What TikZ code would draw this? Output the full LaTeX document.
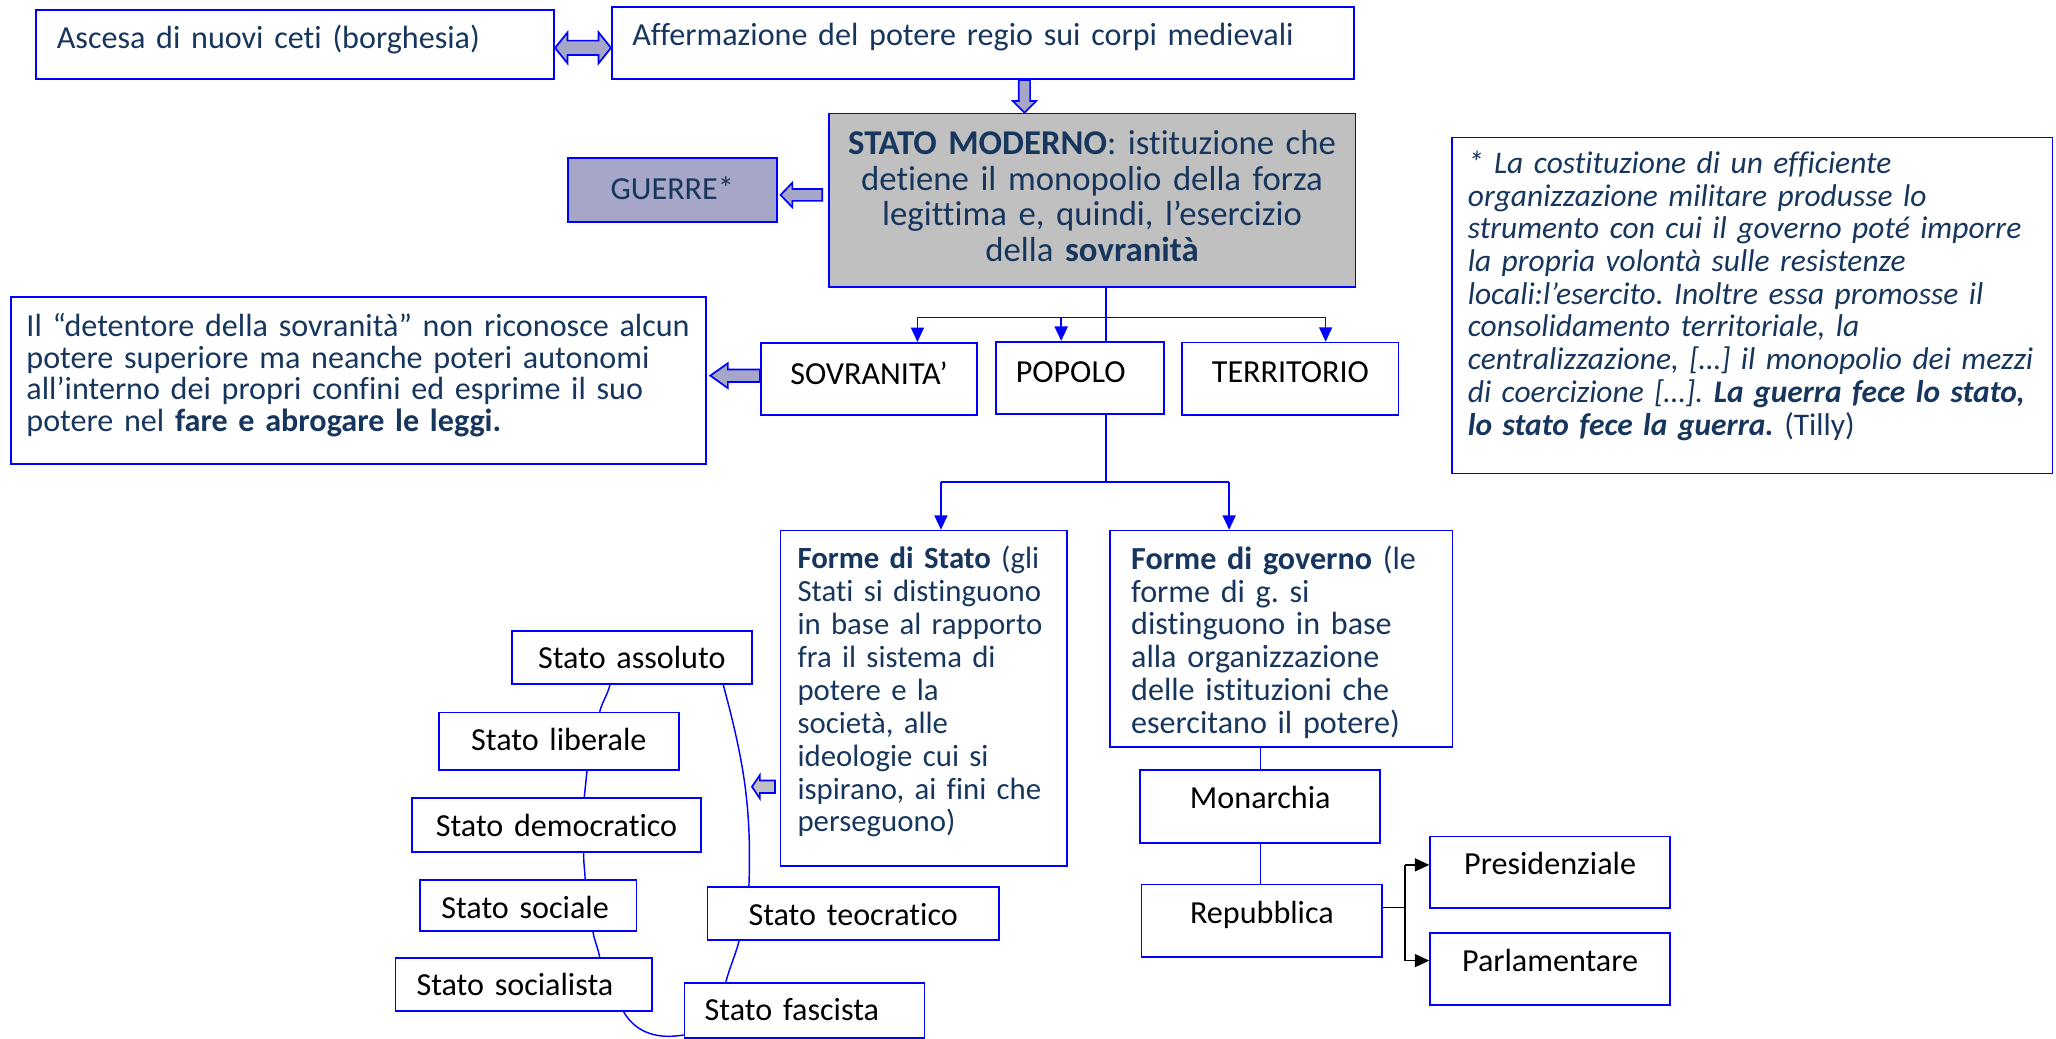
\documentclass[tikz,border=0pt]{standalone}
\usepackage{fontspec}
\setmainfont{Carlito}[Ligatures={TeX,NoCommon}]
\frenchspacing
\hyphenpenalty=10000
\usetikzlibrary{calc}
\usetikzlibrary{arrows.meta}
\definecolor{blu}{RGB}{0,0,255}
\definecolor{notte}{RGB}{23,54,93}
\definecolor{lilla}{RGB}{166,166,200}
\definecolor{grigio}{RGB}{192,192,192}
\tikzset{
    box/.style={
        rectangle,          % 矩形
        draw=blu,           % 蓝色边框
        line width=1.3pt,   % 边框粗细
        anchor=north west,  % 以左上角定位
        inner ysep=0pt,
        align=left,
        text=notte,
        font=\fontsize{24.5}{25}\selectfont
    },
    nero/.style={box, text=black},
    link/.style={draw=blu, line width=1.1pt},
    punta/.style={-{Triangle[length=11pt,width=10pt]}},
    fat/.style={draw=blu, line width=1.3pt, line join=miter}
}
% 粗箭头: [填充色]{尾}{尖}{箭头半宽}{箭身半宽}{箭头长}
\newcommand{\freccia}[6][lilla]{%
  \filldraw[fat, fill=#1] let \p1=(#2), \p2=(#3),
      \n1={veclen(\x2-\x1,\y2-\y1)}, \n2={atan2(\y2-\y1,\x2-\x1)} in
      [shift={(\p2)}, rotate=\n2]
      (0pt,0pt) -- (-#6pt,#4pt) -- (-#6pt,#5pt) -- (-\n1,#5pt)
      -- (-\n1,-#5pt) -- (-#6pt,-#5pt) -- (-#6pt,-#4pt) -- cycle;}
\newcommand{\frecciadoppia}[6][lilla]{%
  \filldraw[fat, fill=#1] let \p1=(#2), \p2=(#3),
      \n1={veclen(\x2-\x1,\y2-\y1)}, \n2={atan2(\y2-\y1,\x2-\x1)} in
      [shift={(\p2)}, rotate=\n2]
      (0pt,0pt) -- (-#6pt,#4pt) -- (-#6pt,#5pt) -- (-\n1+#6pt,#5pt)
      -- (-\n1+#6pt,#4pt) -- (-\n1,0pt) -- (-\n1+#6pt,-#4pt)
      -- (-\n1+#6pt,-#5pt) -- (-#6pt,-#5pt) -- (-#6pt,-#4pt) -- cycle;}

\begin{document}
\begin{tikzpicture}[x=1pt, y=-1pt]
\useasboundingbox (0,0) rectangle (1568,792);

% 上方
\node[box, text width=363.3pt, inner xsep=16pt, text height=29.1pt, text depth=23.5pt] (ascesa) at (26.7,7.1) {Ascesa di nuovi ceti (borghesia)};
\node[box, text width=534.8pt, inner xsep=15.6pt, text height=29.1pt, text depth=26pt] (afferm) at (466,4.6) {Affermazione del potere regio sui corpi medievali};
\node[box, fill=grigio, align=center, text width=385.6pt, inner xsep=8pt, text height=31.5pt, text depth=100.5pt,
      font=\fontsize{26.5}{27}\selectfont] (moderno) at (631.4,86)
     {\textbf{STATO MODERNO}: istituzione che\\detiene il monopolio della forza\\legittima e, quindi, l’esercizio\\della \textbf{sovranità}};
\node[box, fill=lilla, align=center, text width=149.5pt, inner xsep=5pt, text height=31.6pt, text depth=17.2pt] (guerre) at (432.3,120) {GUERRE*};
\node[box, text width=433.8pt, inner xsep=12pt, text height=27.4pt, text depth=228.9pt,
      font=\fontsize{24}{24.95}\selectfont\itshape] (tilly) at (1106.8,104.2)
     {* La costituzione di un efficiente\\organizzazione militare produsse lo\\strumento con cui il governo poté imporre\\la propria volontà sulle resistenze\\locali:l’esercito. Inoltre essa promosse il\\consolidamento territoriale, la\\centralizzazione, […] il monopolio dei mezzi\\di coercizione […]. \textbf{La guerra fece lo stato,}\\\textbf{lo stato fece la guerra.} \upshape(Tilly)};
\node[box, text width=506.3pt, inner xsep=12pt, text height=30pt, text depth=97pt,
      font=\fontsize{24.5}{24.2}\selectfont] (leggi) at (7.5,226)
     {Il “detentore della sovranità” non riconosce alcun\\potere superiore ma neanche poteri autonomi\\all’interno dei propri confini ed esprime il suo\\potere nel \textbf{fare e abrogare le leggi.}};

% 三个要素
\node[nero, align=center, text width=154.8pt, inner xsep=5pt, text height=31.8pt, text depth=23.4pt] (sovranita) at (579.6,260.8) {SOVRANITA'};
\node[nero, text width=98pt, inner xsep=15pt, text height=31.4pt, text depth=23.9pt] (popolo) at (759,260) {POPOLO};
\node[nero, align=center, text width=155pt, inner xsep=5pt, text height=30.8pt, text depth=24.4pt] (territorio) at (901,260.6) {TERRITORIO};

% 形式
\node[box, text width=192.4pt, inner xsep=13pt, text height=29pt, text depth=227pt,
      font=\fontsize{23.5}{25.1}\selectfont] (formestato) at (594.6,404)
     {\textbf{Forme di Stato} (gli\\Stati si distinguono\\in base al rapporto\\fra il sistema di\\potere e la\\società, alle\\ideologie cui si\\ispirano, ai fini che\\perseguono)};
\node[box, text width=229pt, inner xsep=16pt, text height=29.6pt, text depth=135.4pt] (formegov) at (846,404)
     {\textbf{Forme di governo} (le\\forme di g. si\\distinguono in base\\alla organizzazione\\delle istituzioni che\\esercitano il potere)};

\node[nero, align=center, text width=173pt, inner xsep=5pt, text height=29.1pt, text depth=26.3pt] (monarchia) at (869,586.6) {Monarchia};
\node[nero, align=center, text width=173.5pt, inner xsep=5pt, text height=29.5pt, text depth=25.5pt] (repubblica) at (870,674) {Repubblica};
\node[nero, align=center, text width=173pt, inner xsep=5pt, text height=28.6pt, text depth=26pt] (presid) at (1090,637.4) {Presidenziale};
\node[nero, align=center, text width=173pt, inner xsep=5pt, text height=29.5pt, text depth=25.3pt] (parlam) at (1090,711) {Parlamentare};

% 国家类型
\node[nero, align=center, text width=173.2pt, inner xsep=5pt, text height=28.7pt, text depth=12pt] (assoluto) at (389.6,480.5) {Stato assoluto};
\node[nero, align=center, text width=173pt, inner xsep=5pt, text height=29.2pt, text depth=14.6pt] (liberale) at (334,542.8) {Stato liberale};
\node[nero, align=center, text width=210.5pt, inner xsep=5pt, text height=28.8pt, text depth=11.9pt] (democratico) at (313.5,608.2) {Stato democratico};
\node[nero, text width=132.4pt, inner xsep=16.4pt, text height=29.3pt, text depth=9.6pt] (sociale) at (319.5,670.5) {Stato sociale};
\node[nero, text width=163.6pt, inner xsep=16pt, text height=28.1pt, text depth=12.1pt] (socialista) at (301,730.2) {Stato socialista};
\node[nero, align=center, text width=212pt, inner xsep=5pt, text height=29pt, text depth=11.3pt] (teocratico) at (539,676) {Stato teocratico};
\node[nero, text width=152.1pt, inner xsep=15.4pt, text height=28.6pt, text depth=13.3pt] (fascista) at (521.4,748.8) {Stato fascista};

% 定义点
\coordinate (trunk) at (843.6,242.3);
\coordinate (barS) at (699.7,242.3);
\coordinate (barP) at (809.3,242.3);
\coordinate (barT) at (1011,242.3);
\coordinate (split) at (843.6,367.7);
\coordinate (splitS) at (717.6,367.7);
\coordinate (splitG) at (937.4,367.7);
\coordinate (fork) at (1071.6,692);
\coordinate (forkP) at (1071.6,659.6);
\coordinate (forkQ) at (1071.6,732.6);
\coordinate (dblY) at (0,36.5);
\coordinate (giuX) at (781.3,0);
\coordinate (guerY) at (0,148.7);
\coordinate (sovY) at (0,286.5);
\coordinate (grY) at (0,600);

% 连线
\draw[link] (moderno.south -| trunk) -- (popolo.north -| trunk);
\draw[link] (barS) -- (barT);
\draw[link, punta] (barS) -- (barS |- sovranita.north);
\draw[link, punta] (barP) -- (barP |- popolo.north);
\draw[link, punta] (barT) -- (barT |- territorio.north);

\draw[link] (popolo.south -| split) -- (split);
\draw[link] (splitS) -- (splitG);
\draw[link, punta] (splitS) -- (splitS |- formestato.north);
\draw[link, punta] (splitG) -- (splitG |- formegov.north);

\draw[link] (formegov.south -| monarchia.north) -- (monarchia.north);
\draw[link] (monarchia.south) -- (repubblica.north -| monarchia.south);

\draw[line width=1.1pt] (repubblica.east |- fork) -- (fork);
\draw[line width=1.1pt] (forkP) -- (forkQ);
\draw[line width=1.1pt, punta] (forkP) -- (forkP -| presid.west);
\draw[line width=1.1pt, punta] (forkQ) -- (forkQ -| parlam.west);

\draw[link] ($(assoluto.south)+(-16.7,0)$) to[out=-105, in=75] ($(liberale.north)+(31.2,0)$);
\draw[link] ($(liberale.south)+(21.5,0)$) to[out=-95, in=85] ($(democratico.north)+(21.2,0)$);
\draw[link] ($(democratico.south)+(20.8,0)$) to[out=-92, in=92] ($(sociale.north)+(43.5,0)$);
\draw[link] ($(sociale.south)+(49.5,0)$) to[out=-80, in=100] ($(socialista.north)+(57.9,0)$);
\draw[link] ($(socialista.south)+(76.2,0)$) to[out=-60, in=190] ($(fascista.south west)+(0,-2.7)$);
\draw[link] ($(assoluto.south)+(69.8,0)$) to[out=-75, in=88] ($(teocratico.north)+(-79.5,0)$);
\draw[link] ($(teocratico.south)+(-87,0)$) to[out=-105, in=75] ($(fascista.north)+(-59.9,0)$);

% 粗箭头
\frecciadoppia{ascesa.east |- dblY}{afferm.west |- dblY}{11.8}{5.5}{9.5}
\freccia{afferm.south -| giuX}{moderno.north -| giuX}{9}{4.3}{9}
\freccia{$(moderno.west |- guerY)+(-4.4,0)$}{$(guerre.east |- guerY)+(2.2,0)$}{9.4}{4.5}{9}
\freccia{sovranita.west |- sovY}{$(leggi.east |- sovY)+(2.6,0)$}{9.5}{4.75}{13.4}
\freccia[grigio]{$(formestato.west |- grY)+(-3.6,0)$}{$(formestato.west |- grY)+(-21.1,0)$}{8.9}{4.8}{6}

\end{tikzpicture}
\end{document}
